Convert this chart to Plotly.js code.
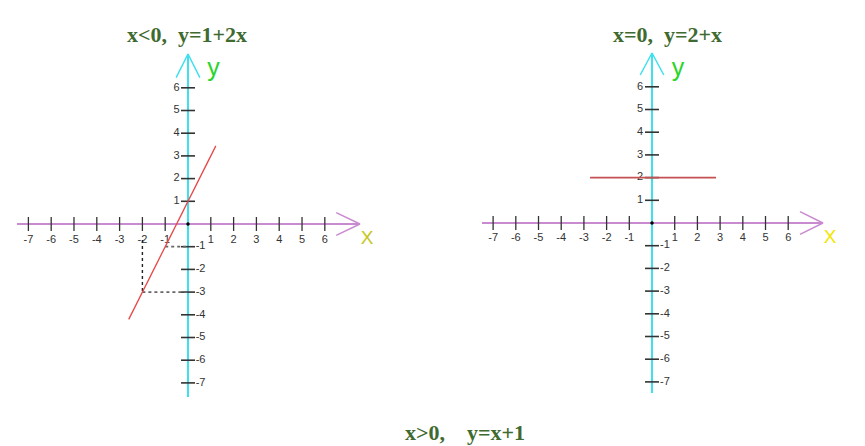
<!DOCTYPE html>
<html><head><meta charset="utf-8">
<script src="https://cdn.plot.ly/plotly-3.0.1.min.js"></script>
<style>html,body{margin:0;padding:0;background:#fff;}#c{width:865px;height:446px;}</style>
</head><body><div id="c"></div>
<script>
// ---- data ----
const titles = ["x<0,  y=1+2x", "x=0,  y=2+x", "x>0,    y=x+1"];
const xTickVals = [-7,-6,-5,-4,-3,-2,-1,1,2,3,4,5,6];
const xTickText = ["-7","-6","-5","-4","-3","-2","-1","1","2","3","4","5","6"];
const yPosTickVals = [1,2,3,4,5,6];
const yPosTickText = ["1","2","3","4","5","6"];
const yNegTickVals = [-1,-2,-3,-4,-5,-6,-7];
const yNegTickText = ["-1","-2","-3","-4","-5","-6","-7"];
// left panel: y = 1 + 2x
const leftLineX = [-2.6, 1.22];
const leftLineY = [-4.2, 3.44];
const guideVX = [-2, -2], guideVY = [-0.7, -3];
const guideH3X = [-2, 0], guideH3Y = [-3, -3];
const guideH1X = [-1, 0], guideH1Y = [-1, -1];
// right panel: y = 2
const rightLineX = [-2.73, 2.82];
const rightLineY = [2, 2];

const FONT_T = "Liberation Sans, Arial, sans-serif";
const tickCol = "#333333";
const xAxisCol = "#c98bd0";
const yAxisCol = "#3fe0ee";

function panel(xa, ya, cfg) {
  const tr = [];
  const ax = {xaxis: xa, yaxis: ya, hoverinfo: "skip", showlegend: false};
  tr.push(Object.assign({type:"scatter", mode:"lines", x:[cfg.xAxisStart, cfg.xAxisEnd], y:[0,0],
    line:{color:xAxisCol, width:2}}, ax));
  tr.push(Object.assign({type:"scatter", mode:"lines", x:[cfg.xArrowBack, cfg.xAxisEnd, cfg.xArrowBack], y:[0.5,0,-0.5],
    line:{color:xAxisCol, width:1.5}}, ax));
  tr.push(Object.assign({type:"scatter", mode:"lines", x:[0,0], y:[cfg.yAxisStart, cfg.yAxisEnd],
    line:{color:yAxisCol, width:2}}, ax));
  tr.push(Object.assign({type:"scatter", mode:"lines", x:[-0.52,0,0.52], y:[cfg.yArrowBack, cfg.yAxisEnd, cfg.yArrowBack],
    line:{color:yAxisCol, width:1.5}}, ax));
  tr.push(Object.assign({type:"scatter", mode:"markers", x:xTickVals, y:xTickVals.map(()=>0),
    marker:{symbol:"line-ns-open", size:10, color:tickCol, line:{color:tickCol, width:1.3}}}, ax));
  tr.push(Object.assign({type:"scatter", mode:"text", x:xTickVals, y:xTickVals.map(()=>cfg.xLabY),
    text:xTickText, textposition:"middle center", textfont:{family:FONT_T, size:11, color:tickCol}}, ax));
  const yAll = yPosTickVals.concat(yNegTickVals);
  tr.push(Object.assign({type:"scatter", mode:"markers", x:yAll.map(()=>0), y:yAll,
    marker:{symbol:"line-ew-open", size:10, color:tickCol, line:{color:tickCol, width:1.6}}}, ax));
  tr.push(Object.assign({type:"scatter", mode:"text", x:yPosTickVals.map(()=>cfg.yPosLabX), y:yPosTickVals,
    text:yPosTickText, textposition:"middle center", textfont:{family:FONT_T, size:11, color:tickCol}}, ax));
  tr.push(Object.assign({type:"scatter", mode:"text", x:yNegTickVals.map(()=>cfg.yNegLabX), y:yNegTickVals,
    text:yNegTickText, textposition:"middle center", textfont:{family:FONT_T, size:11, color:tickCol}}, ax));
  tr.push(Object.assign({type:"scatter", mode:"markers", x:[0], y:[0],
    marker:{color:"#000", size:3.5}}, ax));
  tr.push(Object.assign({type:"scatter", mode:"text", x:[cfg.yNameX], y:[cfg.yNameY], text:["y"],
    textposition:"middle center", textfont:{family:FONT_T, size:25, color:"#2ad42a"}}, ax));
  tr.push(Object.assign({type:"scatter", mode:"text", x:[cfg.xNameX], y:[cfg.xNameY], text:["X"],
    textposition:"middle center", textfont:{family:FONT_T, size:19, color:cfg.xNameCol}}, ax));
  return tr;
}

const traces = [];
traces.push(...panel("x", "y", {
  xAxisStart:-7.5, xAxisEnd:7.54, xArrowBack:6.5,
  yAxisStart:-7.62, yAxisEnd:7.49, yArrowBack:6.45,
  xLabY:-0.7, yPosLabX:-0.5, yNegLabX:0.55,
  yNameX:1.12, yNameY:6.8, xNameX:7.85, xNameY:-0.68, xNameCol:"#c6c61e"
}));
traces.push({type:"scatter", mode:"lines", x:guideVX, y:guideVY, xaxis:"x", yaxis:"y",
  line:{color:"#222", width:1.4, dash:"dot"}, hoverinfo:"skip", showlegend:false});
traces.push({type:"scatter", mode:"lines", x:guideH3X, y:guideH3Y, xaxis:"x", yaxis:"y",
  line:{color:"#666", width:1.8, dash:"dot"}, hoverinfo:"skip", showlegend:false});
traces.push({type:"scatter", mode:"lines", x:guideH1X, y:guideH1Y, xaxis:"x", yaxis:"y",
  line:{color:"#666", width:1.8, dash:"dot"}, hoverinfo:"skip", showlegend:false});
traces.push({type:"scatter", mode:"lines", x:leftLineX, y:leftLineY, xaxis:"x", yaxis:"y",
  line:{color:"#e84646", width:1.3}, hoverinfo:"skip", showlegend:false});

traces.push(...panel("x2", "y2", {
  xAxisStart:-7.49, xAxisEnd:7.53, xArrowBack:6.52,
  yAxisStart:-7.49, yAxisEnd:7.49, yArrowBack:6.52,
  xLabY:-0.66, yPosLabX:-0.53, yNegLabX:0.57,
  yNameX:1.15, yNameY:6.75, xNameX:7.84, xNameY:-0.66, xNameCol:"#f2e600"
}));
traces.push({type:"scatter", mode:"lines", x:rightLineX, y:rightLineY, xaxis:"x2", yaxis:"y2",
  line:{color:"#c55252", width:1.6}, hoverinfo:"skip", showlegend:false});

const hidden = {visible:false, fixedrange:true};
const tFont = {family:"Liberation Serif, Times New Roman, serif", size:22, color:"#3f6a30", weight:"bold"};
const layout = {
  width:865, height:446,
  margin:{l:0, r:0, t:0, b:0},
  paper_bgcolor:"#fff", plot_bgcolor:"rgba(0,0,0,0)",
  showlegend:false,
  xaxis: Object.assign({domain:[0, 380/865], range:[-8.245, 8.42]}, hidden),
  yaxis: Object.assign({domain:[0,1], range:[-9.78, 9.868]}, hidden),
  xaxis2: Object.assign({domain:[470/865, 1], range:[-8.018, 9.383], anchor:"y2"}, hidden),
  yaxis2: Object.assign({domain:[0,1], range:[-9.824, 9.824], anchor:"x2"}, hidden),
  annotations: [
    {text:titles[0], xref:"paper", yref:"paper", x:187/865, y:1-34/446, xanchor:"center", yanchor:"middle",
     showarrow:false, font:tFont},
    {text:titles[1], xref:"paper", yref:"paper", x:667/865, y:1-34/446, xanchor:"center", yanchor:"middle",
     showarrow:false, font:tFont},
    {text:titles[2], xref:"paper", yref:"paper", x:465/865, y:1-432/446, xanchor:"center", yanchor:"middle",
     showarrow:false, font:tFont}
  ]
};
Plotly.newPlot("c", traces, layout, {staticPlot:true, displayModeBar:false});
</script>
</body></html>
